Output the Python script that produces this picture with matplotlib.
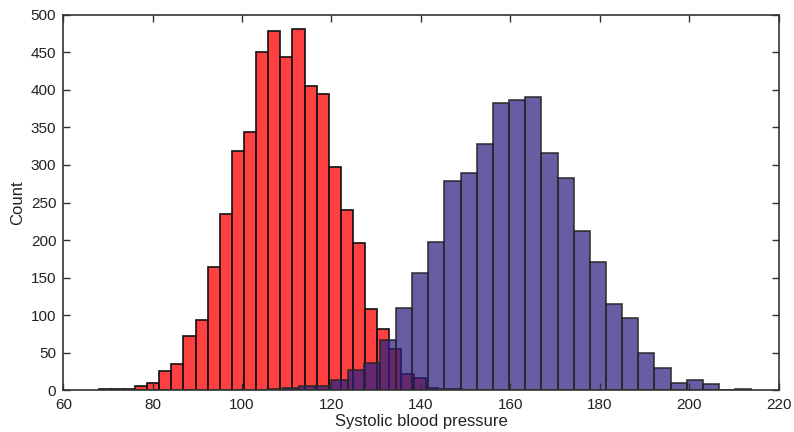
import numpy as np
import matplotlib
matplotlib.use("Agg")
import matplotlib.pyplot as plt

plt.rcParams['font.family'] = ['Liberation Sans', 'DejaVu Sans']

# histogram bins (left edge of first bin, bin width) and counts per bin
red_start, red_width = 67.92, 2.709
red_counts = [1, 2, 2, 6, 9, 26, 35, 72, 93, 164,
              235, 319, 344, 451, 479, 444, 481, 405, 394, 297,
              240, 196, 108, 81, 55, 21, 16, 3, 2, 1]

blue_start, blue_width = 105.53, 3.613
blue_counts = [1, 3, 5, 5, 13, 27, 36, 67, 110, 156,
               197, 278, 289, 328, 382, 387, 391, 316, 282, 212,
               171, 115, 96, 50, 30, 10, 14, 8, 0, 2]

x_ticks = [60, 80, 100, 120, 140, 160, 180, 200, 220]
y_ticks = [0, 50, 100, 150, 200, 250, 300, 350, 400, 450, 500]

fig = plt.figure(figsize=(7.94, 4.32), dpi=100)
ax = fig.add_axes([0.0797, 0.0972, 0.9008, 0.8681])

red_edges = red_start + red_width * np.arange(len(red_counts) + 1)
blue_edges = blue_start + blue_width * np.arange(len(blue_counts) + 1)

ax.bar(red_edges[:-1], red_counts, width=red_width, align='edge',
       facecolor=(1.0, 0.0, 0.0, 0.75), edgecolor='#111111', linewidth=1.2)
ax.bar(blue_edges[:-1], blue_counts, width=blue_width, align='edge',
       facecolor=(0.17, 0.12, 0.5, 0.72), edgecolor=(0.15, 0.15, 0.15, 0.9),
       linewidth=1.2)

ax.set_xlim(60, 220)
ax.set_ylim(0, 500)
ax.set_xticks(x_ticks)
ax.set_yticks(y_ticks)
ax.tick_params(direction='in', top=True, right=True, length=5,
               width=1.0, color='#333333', labelsize=11, labelcolor='#222222')
ax.tick_params(axis='x', pad=6)
ax.tick_params(axis='y', pad=5)
for s in ax.spines.values():
    s.set_color('#333333')
    s.set_linewidth(1.2)

ax.set_xlabel('Systolic blood pressure', fontsize=12, color='#222222', labelpad=1)
ax.set_ylabel('Count', fontsize=12, color='#222222', labelpad=4)

fig.savefig('out.png', dpi=100)
